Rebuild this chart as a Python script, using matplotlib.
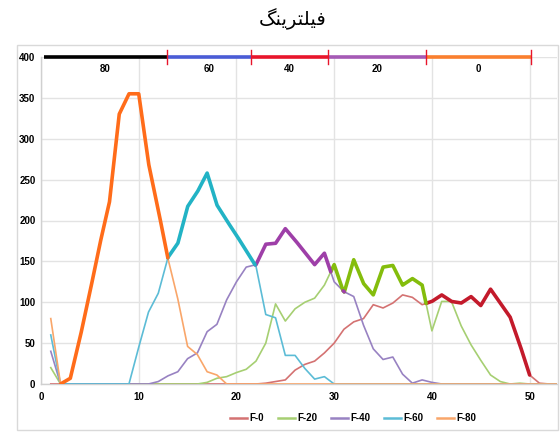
import numpy as np
import matplotlib
matplotlib.use('Agg')
import matplotlib.pyplot as plt
from matplotlib.lines import Line2D
from matplotlib.patches import Rectangle

# Title: "فیلترینگ" written with Arabic presentation forms in visual order
title_text = "\uFB93\uFEE8\uFBFE\uFEAE\uFE98\uFEE0\uFBFF\uFED3"

series_names = ['F-0', 'F-20', 'F-40', 'F-60', 'F-80']

f0 = [0, 0, 0, 0, 0, 0, 0, 0, 0, 0, 0, 0, 0, 0, 0, 0, 0, 0, 0, 0, 0, 0,
      1, 3, 5, 17, 24, 28, 38, 50, 67, 76, 80, 97, 93, 99, 109, 106, 97, 101,
      109, 101, 99, 107, 96, 116, 99, 82, 48, 11, 1, 0, 0]
f20 = [20, 0, 0, 0, 0, 0, 0, 0, 0, 0, 0, 0, 0, 0, 0, 0,
       2, 7, 9, 14, 18, 28, 50, 98, 77, 92, 100, 105, 121, 146, 111, 152, 123, 109,
       143, 145, 121, 129, 121, 65, 101, 101, 71, 48, 29, 11, 3, 0, 1, 0, 0, 0, 0]
f40 = [40, 0, 0, 0, 0, 0, 0, 0, 0, 0, 0,
       3, 10, 15, 31, 38, 64, 73, 103, 125, 143, 146, 171, 172, 190, 176, 161, 146,
       160, 125, 113, 107, 72, 43, 30, 33, 12, 1, 5, 2, 0,
       0, 0, 0, 0, 0, 0, 0, 0, 0, 0, 0, 0]
f60 = [60, 0, 0, 0, 0, 0, 0, 0, 0,
       45, 88, 111, 155, 172, 217, 235, 258, 219, 200, 182, 163, 144, 85, 81, 35, 35,
       19, 6, 9, 0,
       0, 0, 0, 0, 0, 0, 0, 0, 0, 0, 0, 0, 0, 0, 0, 0, 0, 0, 0, 0, 0, 0, 0]
f80 = [80, 0, 7, 57, 112, 170, 222, 330, 355, 355, 270, 213, 153, 104, 46, 36, 15, 11, 0,
       0, 0, 0, 0, 0, 0, 0, 0, 0, 0, 0, 0, 0, 0, 0, 0, 0, 0, 0, 0, 0, 0, 0, 0, 0, 0,
       0, 0, 0, 0, 0, 0, 0, 0]

thin_colors = ['#d47272', '#a6cf72', '#9882c2', '#5cbcd6', '#f9a66a']
thick_colors = ['#c31a2b', '#84bd0c', '#9e3fa8', '#22b3c5', '#ff6c1a']

# highlighted range (where the upper envelope is drawn thick)
hl_start, hl_end = 2, 50

# top band
band_edges = [0.3, 12.85, 21.5, 29.4, 39.4, 50.1]
band_labels = ['80', '60', '40', '20', '0']
band_colors = ['#000000', '#4a5cd6', '#e8152b', '#a55ab5', '#fa7f2e']
band_y = 400
band_label_y = 385

series = [f0, f20, f40, f60, f80]

fig = plt.figure(figsize=(5.6, 4.32), dpi=100)
ax = fig.add_axes([41 / 560, 48 / 432, (557 - 41) / 560, (384 - 57) / 432])

# thin lines
for s, c, name in zip(series, thin_colors, series_names):
    xd = np.arange(1, len(s) + 1)
    ax.plot(xd, s, color=c, lw=1.2, zorder=3, solid_joinstyle='round')

# thick upper envelope
n = len(f0)
xf = np.linspace(hl_start, hl_end, 6001)
interp = np.array([np.interp(xf, np.arange(1, len(s) + 1), s) for s in series])
top = interp.argmax(axis=0)
for k, c in enumerate(thick_colors):
    yk = np.where(top == k, interp[k], np.nan)
    ax.plot(xf, yk, color=c, lw=2.6, zorder=4, solid_capstyle='round',
            solid_joinstyle='round')

# top band
for i in range(len(band_labels)):
    ax.plot([band_edges[i], band_edges[i + 1]], [band_y, band_y],
            color=band_colors[i], lw=2.6, zorder=5, clip_on=False,
            solid_capstyle='butt')
    ax.text((band_edges[i] + band_edges[i + 1]) / 2, band_label_y, band_labels[i],
            ha='center', va='center', zorder=6, fontfamily='Liberation Sans',
            fontsize=7, fontweight='bold')
for e in band_edges[1:]:
    ax.plot([e, e], [band_y - 9, band_y + 9], color='#e8152b', lw=1.0, zorder=6,
            clip_on=False)

ax.set_xlim(0, 52.8)
ax.set_ylim(0, 400)
ax.set_xticks([0, 10, 20, 30, 40, 50])
ax.set_yticks(np.arange(0, 401, 50))
ax.grid(True, color='#e3e3e3', lw=1.0, zorder=0)
ax.set_axisbelow(True)
for sp in ['top', 'right']:
    ax.spines[sp].set_visible(False)
for sp in ['left', 'bottom']:
    ax.spines[sp].set_color('#d0d0d0')
    ax.spines[sp].set_linewidth(1.0)
ax.tick_params(axis='x', length=0, pad=6)
ax.tick_params(axis='y', length=0, pad=4)
for lab in ax.get_xticklabels() + ax.get_yticklabels():
    lab.set_fontfamily('Liberation Sans')
    lab.set_fontsize(7)
    lab.set_fontweight('bold')

# legend
handles = [Line2D([0], [0], color=c, lw=1.8) for c in thin_colors]
leg = fig.legend(handles, series_names, loc='center', ncol=5,
                 bbox_to_anchor=(353 / 560, 1 - 418 / 432), frameon=False,
                 prop=dict(family='Liberation Sans', size=7, weight='bold'),
                 handlelength=1.75, columnspacing=1.4, handletextpad=0.25)

# title
fig.text(293 / 560, 1 - 19 / 432, title_text, ha='center', va='center',
         fontsize=14, family=['DejaVu Sans'])

# outer border
fig.add_artist(Rectangle((17 / 560, 2 / 432), (558 - 17) / 560, (430 - 45) / 432,
                         transform=fig.transFigure, fill=False,
                         edgecolor='#d9d9d9', lw=1.0))

fig.savefig('out.png', dpi=100)
